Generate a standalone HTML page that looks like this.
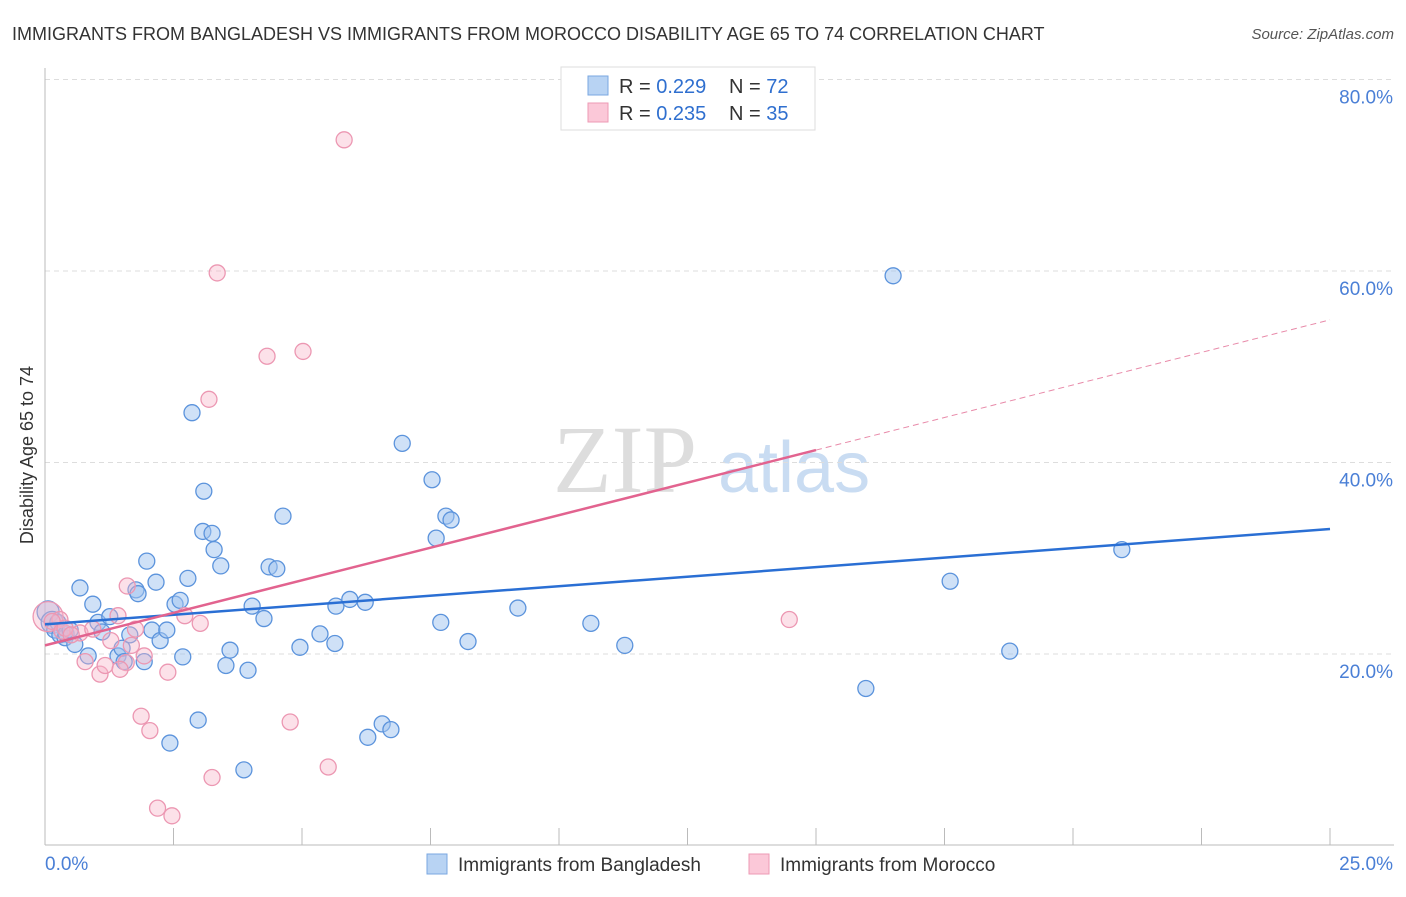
<!DOCTYPE html><html><head><meta charset="utf-8"><style>
body{margin:0;background:#fff;font-family:"Liberation Sans",sans-serif;}
</style></head><body>
<svg width="1406" height="892" xmlns="http://www.w3.org/2000/svg" id="chart">
<text x="12" y="40" font-size="18" fill="#333">IMMIGRANTS FROM BANGLADESH VS IMMIGRANTS FROM MOROCCO DISABILITY AGE 65 TO 74 CORRELATION CHART</text>
<text x="1394" y="39" font-size="15" fill="#555" font-style="italic" text-anchor="end">Source: ZipAtlas.com</text>
<g><text x="553" y="492" font-size="96" font-family="Liberation Serif,serif" fill="#ddd">ZIP</text><text x="718" y="492" font-size="72" fill="#c9dcf2">atlas</text></g>
<g id="grid"></g><g id="axes"></g><g id="marks"></g>
<text transform="translate(33,455) rotate(-90)" font-size="18" fill="#333" text-anchor="middle">Disability Age 65 to 74</text>
<g>
<rect x="561" y="67" width="254" height="63" fill="#fff" stroke="#ddd"/>
<rect x="588" y="76" width="20" height="19" fill="#b8d3f3" stroke="#7aa7e0"/>
<rect x="588" y="103" width="20" height="19" fill="#fbc8d8" stroke="#ee9ab4"/>
<text x="619" y="93" font-size="20" fill="#333">R = <tspan fill="#2f6fcf">0.229</tspan></text>
<text x="729" y="93" font-size="20" fill="#333">N = <tspan fill="#2f6fcf">72</tspan></text>
<text x="619" y="120" font-size="20" fill="#333">R = <tspan fill="#2f6fcf">0.235</tspan></text>
<text x="729" y="120" font-size="20" fill="#333">N = <tspan fill="#2f6fcf">35</tspan></text>
</g>
<g>
<rect x="427" y="854" width="20" height="20" fill="#b8d3f3" stroke="#7aa7e0"/>
<text x="458" y="871" font-size="19" fill="#333">Immigrants from Bangladesh</text>
<rect x="749" y="854" width="20" height="20" fill="#fbc8d8" stroke="#ee9ab4"/>
<text x="780" y="871" font-size="19" fill="#333">Immigrants from Morocco</text>
</g>
</svg>
<script>
const blueX=[0.06,0.14,0.19,0.25,0.29,0.39,0.41,0.49,0.58,0.68,0.84,0.93,1.03,1.11,1.26,1.42,1.50,1.54,1.65,1.77,1.81,1.93,1.98,2.08,2.16,2.24,2.37,2.43,2.53,2.63,2.68,2.78,2.86,2.98,3.09,3.07,3.25,3.29,3.42,3.52,3.60,3.87,3.95,4.03,4.26,4.36,4.51,4.63,4.96,5.35,5.64,5.66,5.93,6.23,6.28,6.56,6.73,6.95,7.53,7.61,7.70,7.80,7.90,8.23,9.20,10.62,11.28,15.97,16.50,17.61,18.77,20.95];
const blueY=[24.4,23.3,22.5,23.3,22.0,21.7,22.1,22.5,21.0,26.9,19.8,25.2,23.3,22.3,23.9,19.8,20.6,19.2,22.0,26.7,26.3,19.2,29.7,22.5,27.5,21.4,22.5,10.7,25.2,25.6,19.7,27.9,45.2,13.1,37.0,32.8,32.6,30.9,29.2,18.8,20.4,7.9,18.3,25.0,23.7,29.1,28.9,34.4,20.7,22.1,21.1,25.0,25.7,25.4,11.3,12.7,12.1,42.0,38.2,32.1,23.3,34.4,34.0,21.3,24.8,23.2,20.9,16.4,59.5,27.6,20.3,30.9];
const pinkX=[0.06,0.29,0.14,0.33,0.78,0.39,0.68,0.51,1.07,1.28,1.17,1.42,1.58,1.68,1.46,1.60,1.76,1.87,1.93,2.04,2.19,2.39,2.47,2.72,3.02,3.19,3.25,3.35,4.32,4.77,5.02,5.51,5.82,14.48,0.93];
const pinkY=[23.9,23.6,23.4,22.4,19.2,22.7,22.2,22.0,17.9,21.4,18.8,24.0,19.1,20.9,18.4,27.1,22.6,13.5,19.8,12.0,3.9,18.1,3.1,24.0,23.2,46.6,7.1,59.8,51.1,12.9,51.6,8.2,73.7,23.6,22.6];
const blueLine=[23.1,33.05];
const pinkLine=[20.9,54.9,15.0];
const yTicks=[20,40,60,80];
const xTickLabels=["0.0%","25.0%"];
const NS="http://www.w3.org/2000/svg";
const X=v=>45+v/25*1285, Y=v=>845.5-v/20*191.5;
function mk(t,a,p){const e=document.createElementNS(NS,t);for(const k in a)e.setAttribute(k,a[k]);document.getElementById(p).appendChild(e);return e;}
yTicks.forEach(v=>{
 const g=mk('line',{x1:45,x2:1394,y1:Y(v),y2:Y(v),stroke:'#ddd','stroke-dasharray':'5,4'},'grid');
 
 
 const t=mk('text',{x:1393,y:Y(v)+24,'font-size':19,fill:'#4a7fd6','text-anchor':'end'},'grid');t.textContent=v.toFixed(1)+'%';
 
 
});
const ax=mk('line',{x1:45,x2:1394,y1:845,y2:845,stroke:'#bbb'},'axes');


const ay=mk('line',{x1:45,x2:45,y1:68,y2:845,stroke:'#bbb'},'axes');


for(let i=0;i<=10;i++){const l=mk('line',{x1:X(i*2.5),x2:X(i*2.5),y1:828,y2:845,stroke:'#bbb'},'axes');
 
 }
xTickLabels.forEach((s,i)=>{const t=mk('text',{x:i?1393:45,y:870,'font-size':19,fill:'#4a7fd6','text-anchor':i?'end':'start'},'axes');t.textContent=s;
 
 });
blueX.forEach((x,i)=>{const c=mk('circle',{cx:X(x),cy:Y(blueY[i]),r:i<2?11:8,fill:'rgba(160,196,240,0.5)',stroke:'#5b93dc','stroke-width':1.3},'marks');
 
 });
pinkX.forEach((x,i)=>{const c=mk('circle',{cx:X(x),cy:Y(pinkY[i]),r:i<1?15:8,fill:'rgba(248,180,200,0.4)',stroke:'#ec97b2','stroke-width':1.3},'marks');
 
 });
const bl=mk('line',{x1:X(0),y1:Y(blueLine[0]),x2:X(25),y2:Y(blueLine[1]),stroke:'#2a6fd4','stroke-width':2.5},'marks');


const pe=pinkLine[0]+(pinkLine[1]-pinkLine[0])*pinkLine[2]/25;
const pl=mk('line',{x1:X(0),y1:Y(pinkLine[0]),x2:X(pinkLine[2]),y2:Y(pe),stroke:'#e2638f','stroke-width':2.5},'marks');


const pd=mk('line',{x1:X(pinkLine[2]),y1:Y(pe),x2:X(25),y2:Y(pinkLine[1]),stroke:'#e88aa9','stroke-width':1,'stroke-dasharray':'6,4'},'marks');


</script></body></html>
